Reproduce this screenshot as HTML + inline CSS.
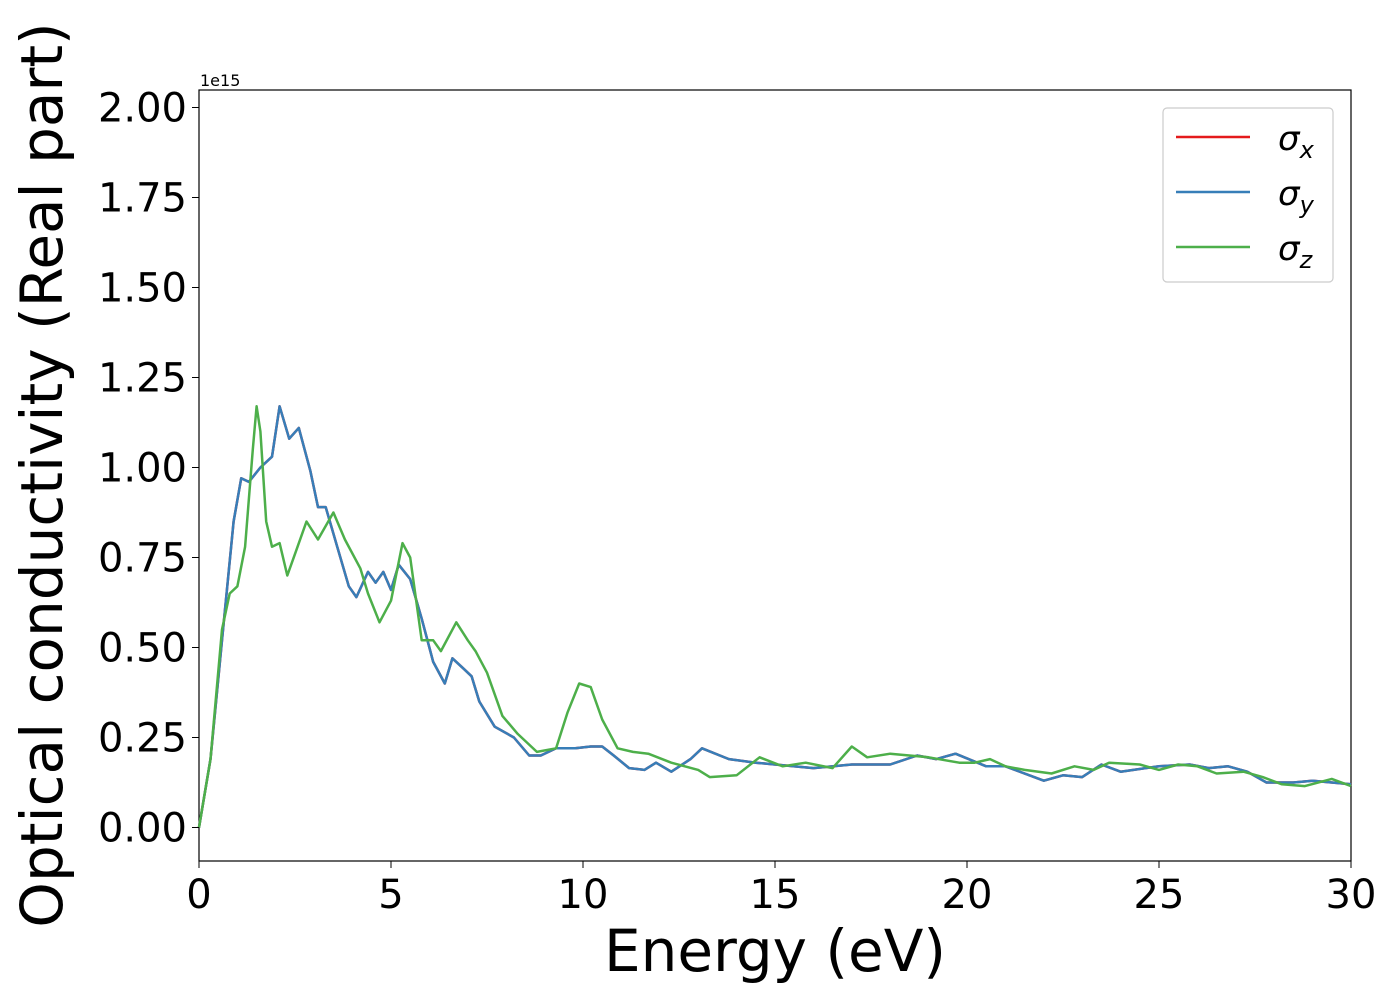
<!DOCTYPE html>
<html><head><meta charset="utf-8"><style>
body{margin:0;background:#fff}
svg{font-family:"DejaVu Sans","Liberation Sans",sans-serif}
</style></head><body>
<svg id="chart" width="1400" height="1000">
<rect x="199" y="90" width="1152" height="771" fill="#fff" stroke="#000" stroke-width="1.2"/>
<g id="lines"></g>
<g id="xticks"></g><g id="yticks"></g>
<text x="200" y="86" font-size="16">1e15</text>
<text x="775" y="971" font-size="58" text-anchor="middle">Energy (eV)</text>
<text transform="translate(62,475) rotate(-90)" font-size="58" text-anchor="middle">Optical conductivity (Real part)</text>
<g>
<rect x="1163" y="108" width="170" height="174" rx="4" fill="#fff" stroke="#ccc" stroke-width="1.2"/>
<line x1="1176" y1="137" x2="1250" y2="137" stroke="#e41a1c" stroke-width="2.5"/>
<text x="1278" y="150" font-size="34" font-style="italic">σ<tspan font-size="24" dy="8">x</tspan></text>
<line x1="1176" y1="192" x2="1250" y2="192" stroke="#377eb8" stroke-width="2.5"/>
<text x="1278" y="205" font-size="34" font-style="italic">σ<tspan font-size="24" dy="8">y</tspan></text>
<line x1="1176" y1="247" x2="1250" y2="247" stroke="#4daf4a" stroke-width="2.5"/>
<text x="1278" y="260" font-size="34" font-style="italic">σ<tspan font-size="24" dy="8">z</tspan></text>
</g>
</svg>
<script>
const xTickLabels=[0,5,10,15,20,25,30];
const yTickLabels=["0.00","0.25","0.50","0.75","1.00","1.25","1.50","1.75","2.00"];
const energyXY=[0,0.3,0.6,0.9,1.1,1.3,1.6,1.9,2.1,2.35,2.6,2.9,3.1,3.3,3.6,3.9,4.1,4.4,4.6,4.8,5.0,5.2,5.5,5.8,6.1,6.4,6.6,6.9,7.1,7.3,7.7,8.2,8.6,8.9,9.3,9.8,10.2,10.5,10.8,11.2,11.6,11.9,12.3,12.8,13.1,13.8,14.5,15,16,17,18,18.7,19.2,19.7,20.5,21,22,22.5,23,23.5,24,25,25.8,26.3,26.8,27.3,27.8,28.5,29,30];
const sigmaXY=[0,0.19,0.52,0.85,0.97,0.96,1.0,1.03,1.17,1.08,1.11,0.99,0.89,0.89,0.78,0.67,0.64,0.71,0.68,0.71,0.66,0.73,0.69,0.58,0.46,0.40,0.47,0.44,0.42,0.35,0.28,0.25,0.20,0.20,0.22,0.22,0.225,0.225,0.20,0.165,0.16,0.18,0.155,0.19,0.22,0.19,0.18,0.175,0.165,0.175,0.175,0.20,0.19,0.205,0.17,0.17,0.13,0.145,0.14,0.175,0.155,0.17,0.175,0.165,0.17,0.155,0.125,0.125,0.13,0.12];
const energyZ=[0,0.3,0.6,0.8,1.0,1.2,1.4,1.5,1.6,1.75,1.9,2.1,2.3,2.5,2.8,3.1,3.5,3.8,4.2,4.4,4.7,5.0,5.3,5.5,5.8,6.1,6.3,6.7,7.0,7.2,7.5,7.9,8.3,8.8,9.3,9.6,9.9,10.2,10.5,10.9,11.3,11.7,12.3,13.0,13.3,14.0,14.6,15.2,15.8,16.5,17.0,17.4,18,18.5,19,19.8,20.2,20.6,21,21.5,22.2,22.8,23.3,23.7,24.5,25,25.5,26,26.5,27.2,27.7,28.2,28.8,29.5,30];
const sigmaZ=[0,0.19,0.55,0.65,0.67,0.78,1.05,1.17,1.1,0.85,0.78,0.79,0.70,0.76,0.85,0.80,0.875,0.80,0.72,0.65,0.57,0.63,0.79,0.75,0.52,0.52,0.49,0.57,0.52,0.49,0.43,0.31,0.26,0.21,0.22,0.32,0.40,0.39,0.30,0.22,0.21,0.205,0.18,0.16,0.14,0.145,0.195,0.17,0.18,0.165,0.225,0.195,0.205,0.2,0.195,0.18,0.18,0.19,0.17,0.16,0.15,0.17,0.16,0.18,0.175,0.16,0.175,0.17,0.15,0.155,0.14,0.12,0.115,0.135,0.115];
const NS="http://www.w3.org/2000/svg";
const xs=v=>199+v*(1152/30);
const ys=v=>827.5-v*360;
function path(ex,vs,color,name){
  const p=document.createElementNS(NS,'path');
  let d=ex.map((e,i)=>(i?'L':'M')+xs(e).toFixed(1)+' '+ys(vs[i]).toFixed(1)).join(' ');
  p.setAttribute('d',d);p.setAttribute('fill','none');p.setAttribute('stroke',color);
  p.setAttribute('stroke-width','2.5');p.setAttribute('stroke-linejoin','round');
  
  
  document.getElementById('lines').appendChild(p);
}
path(energyXY,sigmaXY,'#e41a1c','sigma-x-line');
path(energyXY,sigmaXY,'#377eb8','sigma-y-line');
path(energyZ,sigmaZ,'#4daf4a','sigma-z-line');
const xt=document.getElementById('xticks');
xTickLabels.forEach(v=>{
  const l=document.createElementNS(NS,'line');
  l.setAttribute('x1',xs(v));l.setAttribute('x2',xs(v));l.setAttribute('y1',861);l.setAttribute('y2',868);l.setAttribute('stroke','#000');
  
  
  xt.appendChild(l);
  const t=document.createElementNS(NS,'text');
  t.setAttribute('x',xs(v));t.setAttribute('y',908);t.setAttribute('font-size','40');t.setAttribute('text-anchor','middle');
  t.textContent=v;
  
  
  xt.appendChild(t);
});
const yt=document.getElementById('yticks');
yTickLabels.forEach(s=>{
  const v=parseFloat(s);
  const l=document.createElementNS(NS,'line');
  l.setAttribute('x1',192);l.setAttribute('x2',199);l.setAttribute('y1',ys(v));l.setAttribute('y2',ys(v));l.setAttribute('stroke','#000');
  
  
  yt.appendChild(l);
  const t=document.createElementNS(NS,'text');
  t.setAttribute('x',187);t.setAttribute('y',ys(v)+14);t.setAttribute('font-size','40');t.setAttribute('text-anchor','end');
  t.textContent=s;
  
  
  yt.appendChild(t);
});
</script>
</body></html>
